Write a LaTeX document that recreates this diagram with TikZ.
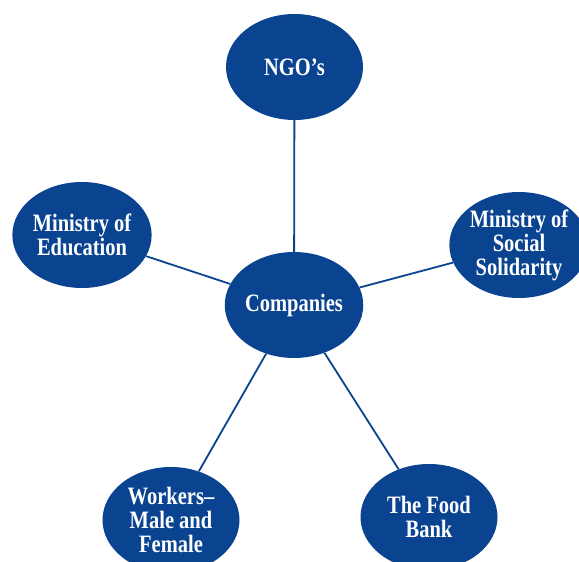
\documentclass[tikz,border=0pt]{standalone}
\usepackage{fontspec}
\setmainfont{Liberation Serif}[FakeStretch=0.82]
\usetikzlibrary{shapes.geometric}
\definecolor{navy}{RGB}{10,68,145}
\begin{document}
\begin{tikzpicture}[x=1pt,y=-1pt,
  bubble/.style={ellipse, fill=navy, text=white, minimum width=137pt, minimum height=106pt, inner sep=0pt,
    align=center, font=\fontsize{25}{24}\selectfont\bfseries},
  link/.style={draw=navy, line width=1.8pt}]
\useasboundingbox (0,0) rectangle (579,562);
\clip (0,0) rectangle (579,562);
\node[bubble] (ngo) at (294.5,67) {NGO’s};
\node[bubble] (edu) at (82,235) {Ministry of\\Education};
\node[bubble] (soc) at (519,245) {Ministry of\\Social\\Solidarity};
\node[bubble] (comp) at (294,305) {Companies};
\node[bubble] (work) at (171,520) {Workers–\\Male and\\Female};
\node[bubble] (food) at (429,517) {The Food\\Bank};
\draw[link] (comp) -- (ngo);
\draw[link] (comp) -- (edu);
\draw[link] (comp) -- (soc);
\draw[link] (comp) -- (work);
\draw[link] (comp) -- (food);
\end{tikzpicture}
\end{document}
